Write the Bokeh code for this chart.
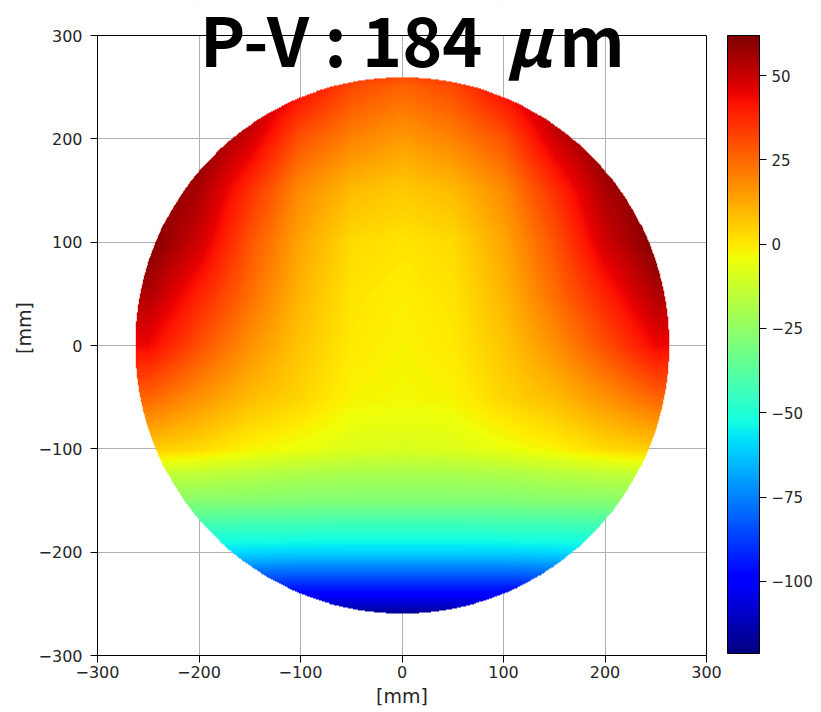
import numpy as np
from bokeh.plotting import figure
from bokeh.models import (LinearColorMapper, ColorBar, FixedTicker, Label, Span,
                          BoxAnnotation, LinearAxis)
from bokeh.embed import file_html
from bokeh.resources import INLINE

# ---- data (surface height, um) ----
x_nodes = [-250, -200, -150, -100, -50, 0, 50, 100, 150, 200, 250]
y_nodes = [260, 250, 200, 150, 100, 50, 0, -50, -100, -125, -150, -175, -200, -225, -250, -260]

z_y260 = [74, 70, 62, 50, 36, 30, 36, 50, 62, 70, 74]
z_y250 = [72, 68, 58, 44, 31, 26, 31, 44, 58, 68, 72]
z_y200 = [68, 62, 49, 29, 20, 15, 20, 29, 49, 62, 68]
z_y150 = [63, 55, 36, 18, 9, 6, 9, 18, 36, 55, 63]
z_y100 = [62, 49, 29, 13, 3, 1, 3, 13, 29, 49, 62]
z_y50 = [54, 39, 24, 10, 1, -1, 1, 10, 24, 39, 54]
z_y0 = [44, 30, 17, 7, 0, -2, 0, 7, 17, 30, 44]
z_ym50 = [26, 17, 9, 4, -2, -3, -2, 4, 9, 17, 26]
z_ym100 = [6, 3, -2, -5, -8, -9, -8, -5, -2, 3, 6]
z_ym125 = [-14, -15, -17, -19, -20, -20, -20, -19, -17, -15, -14]
z_ym150 = [-26, -27, -27, -28, -28, -28, -28, -28, -27, -27, -26]
z_ym175 = [-42, -43, -44, -44, -45, -45, -45, -44, -44, -43, -42]
z_ym200 = [-58, -58, -59, -60, -60, -60, -60, -60, -59, -58, -58]
z_ym225 = [-82, -83, -84, -85, -85, -85, -85, -85, -84, -83, -82]
z_ym250 = [-106, -107, -107, -108, -108, -108, -108, -108, -107, -107, -106]
z_ym260 = [-118, -118, -118, -118, -118, -118, -118, -118, -118, -118, -118]

z_min, z_max = -121.4, 61.9
aperture_rx, aperture_ry = 263.0, 259.5

axis_lim = 300
axis_ticks = [-300, -200, -100, 0, 100, 200, 300]
cbar_ticks = [-100, -75, -50, -25, 0, 25, 50]
title_main, title_mu, title_unit = "P-V : 184", "\u03bc", "m"

# ---- build image (0.5 mm cells) ----
Z = np.array([z_y260, z_y250, z_y200, z_y150, z_y100, z_y50, z_y0, z_ym50,
              z_ym100, z_ym125, z_ym150, z_ym175, z_ym200, z_ym225, z_ym250, z_ym260], float)
yn = np.array(y_nodes, float)
order = np.argsort(yn)
xn = np.array(x_nodes, float)
step = 0.5
fx = np.arange(-264, 264 + step / 2, step)
fy = np.arange(-264, 264 + step / 2, step)
tmp = np.array([np.interp(fy, yn[order], Z[order, j]) for j in range(Z.shape[1])]).T
img = np.array([np.interp(fx, xn, tmp[i]) for i in range(len(fy))])
XX, YY = np.meshgrid(fx, fy)
img[(XX / aperture_rx) ** 2 + (YY / aperture_ry) ** 2 > 1] = np.nan
img = img.astype(np.float32)

# jet palette
t = np.linspace(0, 1, 256)
r = np.interp(t, [0, 0.35, 0.66, 0.89, 1], [0, 0, 1, 1, 0.5])
g = np.interp(t, [0, 0.125, 0.375, 0.64, 0.91, 1], [0, 0, 1, 1, 0, 0])
b = np.interp(t, [0, 0.11, 0.34, 0.65, 1], [0.5, 1, 1, 0, 0])
jet = ["#%02x%02x%02x" % (int(round(255 * a)), int(round(255 * c)), int(round(255 * d)))
       for a, c, d in zip(r, g, b)]

mapper = LinearColorMapper(palette=jet, low=z_min, high=z_max, nan_color=(0, 0, 0, 0))

# frame extends above y=300 (to the canvas top) so the big title is not clipped
H, BOTTOM, TOP_PX = 712, 57, 35
frame_h = H - BOTTOM
y_top = -axis_lim + frame_h * (2 * axis_lim) / (frame_h - TOP_PX)

p = figure(width=821, height=H, x_range=(-axis_lim, axis_lim), y_range=(-axis_lim, y_top),
           output_backend="svg", toolbar_location=None,
           min_border_left=97, min_border_right=115, min_border_top=0, min_border_bottom=BOTTOM)

# white mask above the plotting area (hides grid lines there)
p.add_layout(BoxAnnotation(bottom=axis_lim, fill_color="white", fill_alpha=1,
                           line_color=None, level="underlay"))
# top spine
p.add_layout(Span(location=axis_lim, dimension="width", line_color="black", line_width=1))
# right spine as a bare axis line
right_spine = LinearAxis(ticker=FixedTicker(ticks=[]), bounds=(-axis_lim, axis_lim),
                         axis_line_color="black", major_tick_line_color=None,
                         minor_tick_line_color=None, major_label_text_font_size="0px")
p.add_layout(right_spine, "right")

p.image(image=[img], x=fx[0] - step / 2, y=fy[0] - step / 2,
        dw=len(fx) * step, dh=len(fy) * step, color_mapper=mapper)

TXT = "#262626"
for ax in (p.xaxis[0], p.yaxis[0]):
    ax.ticker = FixedTicker(ticks=axis_ticks)
    ax.major_label_overrides = {v: (str(v) if v >= 0 else "\u2212" + str(-v)) for v in axis_ticks}
    ax.major_label_text_font = "DejaVu Sans"
    ax.major_label_text_font_size = "16px"
    ax.major_label_text_color = TXT
    ax.axis_label = "[mm]"
    ax.axis_label_text_font = "DejaVu Sans"
    ax.axis_label_text_font_size = "19px"
    ax.axis_label_text_font_style = "normal"
    ax.axis_label_text_color = TXT
    ax.axis_line_color = "black"
    ax.major_tick_line_color = "black"
    ax.major_tick_out = 7
    ax.major_tick_in = 0
    ax.minor_tick_line_color = None
    ax.bounds = (-axis_lim, axis_lim)
p.xaxis[0].major_label_standoff = 3
p.xaxis[0].axis_label_standoff = 4
p.yaxis[0].major_label_standoff = 8
p.yaxis[0].axis_label_standoff = 1

p.xgrid.ticker = FixedTicker(ticks=axis_ticks)
p.ygrid.ticker = FixedTicker(ticks=axis_ticks)
p.grid.grid_line_color = "#b0b0b0"
p.grid.grid_line_width = 1
p.outline_line_color = None
p.background_fill_color = "white"

cb = ColorBar(color_mapper=mapper, ticker=FixedTicker(ticks=cbar_ticks),
              width=32, height=618, padding=0, margin=0, location=(630, 2),
              major_label_text_font="DejaVu Sans", major_label_text_font_size="15px",
              major_label_text_color=TXT, major_tick_out=7, major_tick_in=0,
              major_tick_line_color="black", bar_line_color="black",
              border_line_color=None, background_fill_alpha=0, label_standoff=5)
p.add_layout(cb, "center")

tfont = "Noto Sans CJK JP"
for txt, xx, style in ((title_main, -199, "bold"), (title_mu, 103, "bold italic"),
                       (title_unit, 155, "bold")):
    p.add_layout(Label(x=xx, y=298, text=txt, text_font=tfont, text_font_size="68px",
                       text_font_style=style, text_color="black",
                       text_align="left", text_baseline="alphabetic"))

open("out.html", "w").write(file_html(p, INLINE))
